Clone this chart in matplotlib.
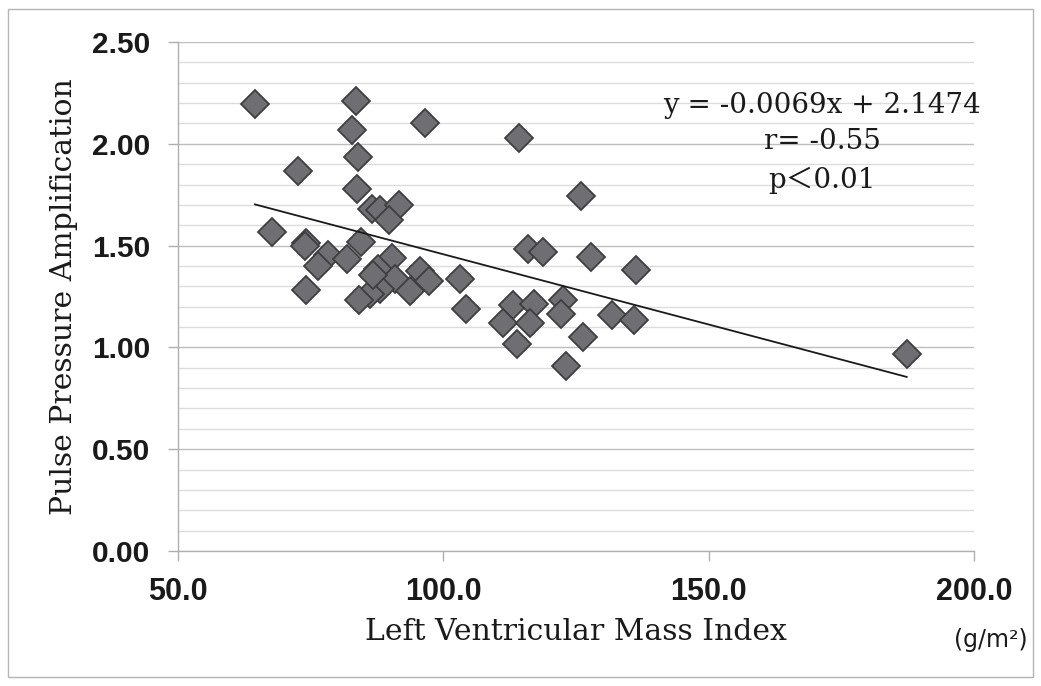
import numpy as np
import matplotlib
matplotlib.use("Agg")
import matplotlib.pyplot as plt
from matplotlib.patches import Rectangle
from matplotlib.ticker import MultipleLocator

# Data
lvmi = [64.5, 83.5, 82.8, 96.6, 84.0, 72.6, 83.8, 86.5, 88.1, 91.7,
        89.8, 67.7, 74.2, 73.9, 84.4, 78.3, 76.4, 81.9, 90.3, 87.7,
        90.9, 88.0, 86.2, 84.1, 93.7, 95.6, 97.2, 103.2, 104.2, 74.2,
        86.8, 114.3, 125.9, 116.0, 118.8, 127.9, 136.3, 113.2, 117.0, 111.3,
        116.3, 113.8, 122.6, 122.2, 126.3, 123.2, 131.8, 135.9, 187.3]
ppa = [2.193, 2.212, 2.069, 2.102, 1.937, 1.866, 1.776, 1.680, 1.676, 1.701,
       1.624, 1.565, 1.513, 1.496, 1.518, 1.455, 1.401, 1.435, 1.440, 1.384,
       1.337, 1.287, 1.262, 1.234, 1.275, 1.377, 1.326, 1.334, 1.189, 1.283,
       1.357, 2.028, 1.742, 1.483, 1.467, 1.444, 1.378, 1.210, 1.215, 1.120,
       1.120, 1.018, 1.234, 1.164, 1.049, 0.907, 1.158, 1.136, 0.968]

slope = -0.0069
intercept = 2.1474
eq_lines = ["y = -0.0069x + 2.1474", "r= -0.55", "p\uff1c0.01"]

xticks = [50.0, 100.0, 150.0, 200.0]
yticks = [0.00, 0.50, 1.00, 1.50, 2.00, 2.50]

fig = plt.figure(figsize=(10.41, 6.86), dpi=100)
fig.patch.set_facecolor("white")
fig.patches.append(Rectangle((0.008, 0.013), 0.984, 0.974, transform=fig.transFigure,
                             fill=False, edgecolor="#b5b5b5", linewidth=1.0))

ax = fig.add_axes([0.171, 0.1968, 0.7647, 0.7420])
ax.set_xlim(50, 200)
ax.set_ylim(0, 2.5)

# grid
ax.yaxis.set_minor_locator(MultipleLocator(0.1))
ax.set_yticks(yticks)
ax.set_xticks(xticks)
ax.grid(which="minor", axis="y", color="#dcdcdc", linewidth=1.0)
ax.grid(which="major", axis="y", color="#bdbdbd", linewidth=1.0)
ax.grid(which="both", axis="x", visible=False)
ax.set_axisbelow(True)

for s in ["top", "right"]:
    ax.spines[s].set_visible(False)
for s in ["left", "bottom"]:
    ax.spines[s].set_color("#b0b0b0")
    ax.spines[s].set_linewidth(1.0)

ax.tick_params(axis="both", which="major", direction="out", length=7, color="#b0b0b0", width=1)
ax.tick_params(axis="y", which="minor", length=0)
ax.set_yticklabels([f"{v:.2f}" for v in yticks], fontsize=21.5, fontweight="bold",
                   family="Liberation Sans", color="#1a1a1a")
ax.set_xticklabels([f"{v:.1f}" for v in xticks], fontsize=22, fontweight="bold",
                   family="Liberation Sans", color="#1a1a1a")
ax.tick_params(axis="y", pad=13)
ax.tick_params(axis="x", pad=12)

# scatter
ax.plot(lvmi, ppa, linestyle="none", marker="D", markersize=14.5,
        markerfacecolor="#6f6f73", markeredgecolor="#3e3e40", markeredgewidth=1.3, zorder=3)

# trend line
xl = np.array([min(lvmi), max(lvmi)])
ax.plot(xl, slope * xl + intercept, color="#1a1a1a", linewidth=1.3, zorder=4)

# labels
ax.set_xlabel("Left Ventricular Mass Index", fontsize=21.5, family="DejaVu Serif",
              color="#1a1a1a", labelpad=8)
ax.set_ylabel("Pulse Pressure Amplification", fontsize=21.5, family="DejaVu Serif",
              color="#1a1a1a", labelpad=10)

fig.text(0.952, 0.067, "(g/m\u00b2)", fontsize=17, family="DejaVu Sans",
         ha="center", va="center", color="#1a1a1a")

centers = [2.19, 2.01, 1.82]
for txt, yv in zip(eq_lines, centers):
    ax.text(171.4, yv, txt, fontsize=20, family=["DejaVu Serif", "Noto Sans CJK JP"],
            ha="center", va="center", color="#1a1a1a", zorder=5)

fig.savefig("out.png", dpi=100, facecolor="white")
